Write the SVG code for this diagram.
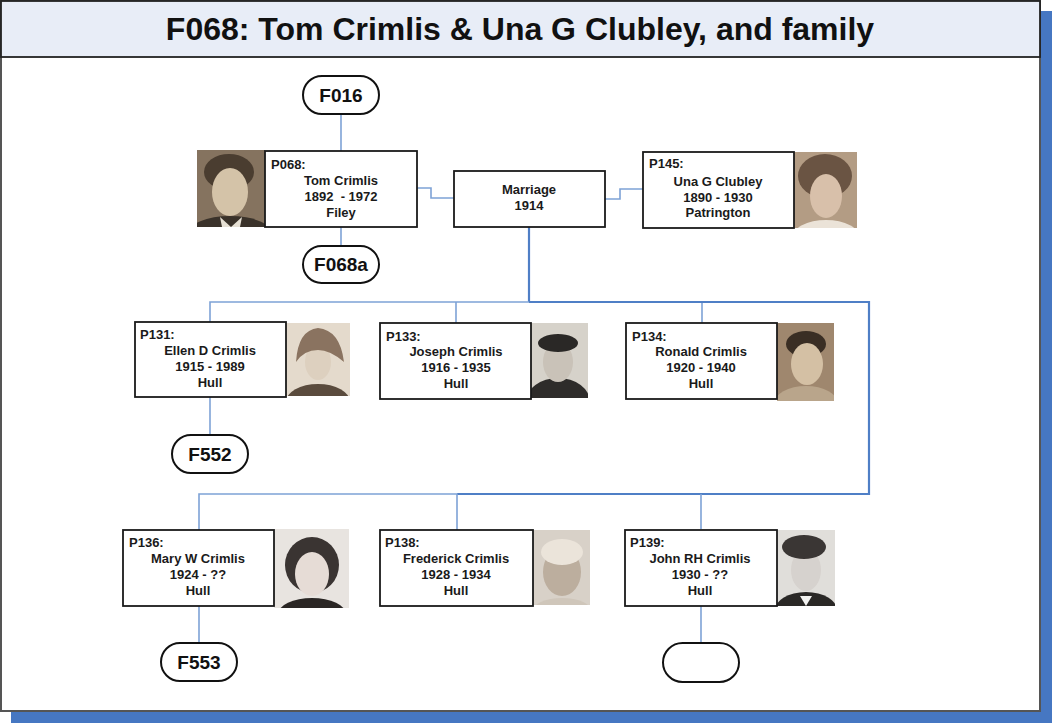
<svg xmlns="http://www.w3.org/2000/svg" width="1052" height="723" viewBox="0 0 1052 723">
<style>
.box{fill:#fff;stroke:#1a1a1a;stroke-width:1.8}
.oval{fill:#fff;stroke:#111;stroke-width:2}
.t{font-family:"Liberation Sans",Arial,sans-serif;font-weight:bold;font-size:13px;fill:#1a1a1a}
.c{text-anchor:middle}
.ot{font-family:"Liberation Sans",Arial,sans-serif;font-weight:bold;font-size:19px;fill:#111;text-anchor:middle}
.ln{fill:none;stroke:#7ea2d6;stroke-width:1.6}
.lk{fill:none;stroke:#4f7fc6;stroke-width:2.2}
</style>
<defs>
<clipPath id="cTom"><rect x="197" y="150" width="68" height="77"/></clipPath>
<clipPath id="cUna"><rect x="794" y="152" width="63" height="76"/></clipPath>
<clipPath id="cEll"><rect x="286" y="323" width="64" height="73"/></clipPath>
<clipPath id="cJos"><rect x="531" y="323" width="57" height="75"/></clipPath>
<clipPath id="cRon"><rect x="777" y="323" width="57" height="78"/></clipPath>
<clipPath id="cMar"><rect x="274" y="529" width="75" height="79"/></clipPath>
<clipPath id="cFre"><rect x="533" y="530" width="57" height="75"/></clipPath>
<clipPath id="cJoh"><rect x="777" y="530" width="58" height="76"/></clipPath>
</defs>

<!-- page -->
<rect x="11" y="11" width="1041" height="712" fill="#4677c2"/>
<rect x="1" y="1" width="1039" height="710" fill="#fff" stroke="#555" stroke-width="2"/>
<rect x="1" y="1" width="1039" height="56" fill="#e8edf7" stroke="#222" stroke-width="1.8"/>
<text x="520" y="40" font-family="Liberation Sans,Arial,sans-serif" font-weight="bold" font-size="32" fill="#111" text-anchor="middle">F068: Tom Crimlis &amp; Una G Clubley, and family</text>

<g id="connectors">
<path class="ln" d="M341,114 V151"/>
<path class="ln" d="M341,227 V247"/>
<path class="ln" d="M417,188 H431 V198 H454"/>
<path class="ln" d="M605,199 H620 V189 H643"/>
<path class="lk" d="M529,227 V302"/>
<path class="ln" d="M210,322 V302 H529"/>
<path class="ln" d="M456,302 V323"/>
<path class="lk" d="M529,302 H869 V494 H457"/>
<path class="ln" d="M702,303 V323"/>
<path class="ln" d="M199,530 V494 H457 V530"/>
<path class="ln" d="M701,494 V529"/>
<path class="ln" d="M210,397 V435"/>
<path class="ln" d="M199,606 V643"/>
<path class="ln" d="M701,606 V643"/>
</g>

<g id="F016"><rect class="oval" x="303" y="76" width="76" height="38" rx="19"/><text class="ot" x="341" y="101.5">F016</text></g>
<g id="F068a"><rect class="oval" x="303" y="246" width="76" height="37" rx="18.5"/><text class="ot" x="341" y="271">F068a</text></g>
<g id="F552"><rect class="oval" x="172" y="435" width="76" height="38" rx="19"/><text class="ot" x="210" y="460.5">F552</text></g>
<g id="F553"><rect class="oval" x="161" y="643" width="76" height="38" rx="19"/><text class="ot" x="199" y="668.5">F553</text></g>
<g id="Fempty"><rect class="oval" x="663" y="643" width="76" height="39" rx="19.5"/></g>

<g id="marriage"><rect class="box" x="454" y="171" width="151" height="56"/>
<text class="t c" x="529" y="194">Marriage</text><text class="t c" x="529" y="210">1914</text></g>

<g id="P068">
<g clip-path="url(#cTom)"><rect x="197" y="150" width="68" height="77" fill="#85735f"/>
<ellipse cx="230" cy="234" rx="42" ry="18" fill="#3a322a"/><path d="M220,217 L231,227 L242,217 L240,227 L222,227Z" fill="#e6e0d4"/>
<ellipse cx="229" cy="172" rx="25" ry="18" fill="#4a3d30"/><ellipse cx="230" cy="192" rx="18" ry="24" fill="#d4c3a8"/></g>
<rect class="box" x="265" y="151" width="152" height="76"/>
<text class="t" x="271" y="169">P068:</text>
<text class="t c" x="341" y="185">Tom Crimlis</text><text class="t c" x="341" y="201" xml:space="preserve">1892  - 1972</text><text class="t c" x="341" y="217">Filey</text></g>

<g id="P145">
<g clip-path="url(#cUna)"><rect x="794" y="152" width="63" height="76" fill="#b39c84"/>
<ellipse cx="825" cy="176" rx="27" ry="22" fill="#6a5443"/><ellipse cx="826" cy="238" rx="34" ry="18" fill="#ebe3d8"/>
<ellipse cx="826" cy="196" rx="16" ry="22" fill="#d8c0aa"/></g>
<rect class="box" x="643" y="152" width="151" height="76"/>
<text class="t" x="649" y="168">P145:</text>
<text class="t c" x="718" y="186">Una G Clubley</text><text class="t c" x="718" y="202">1890 - 1930</text><text class="t c" x="718" y="217">Patrington</text></g>

<g id="P131">
<g clip-path="url(#cEll)"><rect x="286" y="323" width="64" height="73" fill="#e4dacc"/>
<ellipse cx="318" cy="402" rx="32" ry="18" fill="#5a4b3d"/><ellipse cx="318" cy="362" rx="13" ry="18" fill="#ddd0bf"/>
<path d="M296,362 Q298,330 318,328 Q340,330 344,362 Q330,350 318,350 Q304,350 296,362Z" fill="#8a7360"/></g>
<rect class="box" x="135" y="322" width="151" height="75"/>
<text class="t" x="140" y="339">P131:</text>
<text class="t c" x="210" y="355">Ellen D Crimlis</text><text class="t c" x="210" y="371">1915 - 1989</text><text class="t c" x="210" y="387">Hull</text></g>

<g id="P133">
<g clip-path="url(#cJos)"><rect x="531" y="323" width="57" height="75" fill="#d6d2ca"/>
<ellipse cx="558" cy="402" rx="32" ry="24" fill="#2e2c2a"/><ellipse cx="558" cy="362" rx="15" ry="20" fill="#c9c2b8"/>
<ellipse cx="558" cy="343" rx="20" ry="9" fill="#2a2826"/></g>
<rect class="box" x="380" y="323" width="151" height="76"/>
<text class="t" x="386" y="341">P133:</text>
<text class="t c" x="456" y="356">Joseph Crimlis</text><text class="t c" x="456" y="372">1916 - 1935</text><text class="t c" x="456" y="388">Hull</text></g>

<g id="P134">
<g clip-path="url(#cRon)"><rect x="777" y="323" width="57" height="78" fill="#9f876e"/>
<ellipse cx="806" cy="404" rx="32" ry="18" fill="#b9a58b"/><ellipse cx="806" cy="344" rx="20" ry="13" fill="#3a2e24"/>
<ellipse cx="807" cy="364" rx="16" ry="21" fill="#d4c0a4"/></g>
<rect class="box" x="626" y="323" width="151" height="76"/>
<text class="t" x="632" y="341">P134:</text>
<text class="t c" x="701" y="356">Ronald Crimlis</text><text class="t c" x="701" y="372">1920 - 1940</text><text class="t c" x="701" y="388">Hull</text></g>

<g id="P136">
<g clip-path="url(#cMar)"><rect x="274" y="529" width="75" height="79" fill="#e8e4e0"/>
<ellipse cx="312" cy="614" rx="34" ry="16" fill="#2a2624"/><ellipse cx="312" cy="565" rx="27" ry="28" fill="#3a3432"/>
<ellipse cx="312" cy="574" rx="17" ry="22" fill="#e6dcd6"/></g>
<rect class="box" x="123" y="530" width="151" height="76"/>
<text class="t" x="129" y="547">P136:</text>
<text class="t c" x="198" y="563">Mary W Crimlis</text><text class="t c" x="198" y="579">1924 - ??</text><text class="t c" x="198" y="595">Hull</text></g>

<g id="P138">
<g clip-path="url(#cFre)"><rect x="533" y="530" width="57" height="75" fill="#d8d1c8"/>
<ellipse cx="562" cy="612" rx="30" ry="14" fill="#cfc6ba"/><ellipse cx="562" cy="572" rx="19" ry="24" fill="#bcae9e"/>
<ellipse cx="562" cy="552" rx="21" ry="13" fill="#ebe4da"/></g>
<rect class="box" x="380" y="530" width="153" height="76"/>
<text class="t" x="385" y="547">P138:</text>
<text class="t c" x="456" y="563">Frederick Crimlis</text><text class="t c" x="456" y="579">1928 - 1934</text><text class="t c" x="456" y="595">Hull</text></g>

<g id="P139">
<g clip-path="url(#cJoh)"><rect x="777" y="530" width="58" height="76" fill="#e0deda"/>
<ellipse cx="806" cy="612" rx="32" ry="20" fill="#2a2826"/><path d="M800,596 L806,606 L812,596Z" fill="#f2f2f0"/>
<ellipse cx="806" cy="570" rx="15" ry="21" fill="#d6d2ce"/><ellipse cx="804" cy="547" rx="22" ry="12" fill="#3a3634"/></g>
<rect class="box" x="625" y="530" width="152" height="76"/>
<text class="t" x="630" y="547">P139:</text>
<text class="t c" x="700" y="563">John RH Crimlis</text><text class="t c" x="700" y="579">1930 - ??</text><text class="t c" x="700" y="595">Hull</text></g>
</svg>
